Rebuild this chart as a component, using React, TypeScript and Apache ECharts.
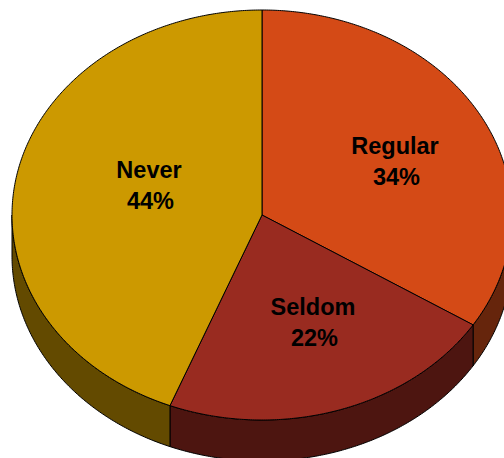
import React, { useEffect, useRef } from "react";
import * as echarts from "echarts";

// Usage shares, clockwise from twelve o'clock.
const categories = ["Regular", "Seldom", "Never"];
const shares = [34, 22, 44];
const topColors = ["#D44A16", "#992B20", "#CC9900"];
const wallColors = ["#66250C", "#4D1510", "#634A00"];

// Tilted disc geometry.
const CX = 262;
const CY = 215;
const RX = 250;
const RY = 205;
const DEPTH = 41;
const labelCentres = [
  [395, 161],
  [313, 322],
  [149, 185],
];
const LABEL_FONT = 'bold 23.5px "Liberation Sans", Arial, sans-serif';

const total = shares.reduce((a, b) => a + b, 0);

const rimPoint = (deg: number, dy = 0) => {
  const r = (deg * Math.PI) / 180;
  return [CX + RX * Math.sin(r), CY - RY * Math.cos(r) + dy];
};

const rimArc = (from: number, to: number, dy = 0) => {
  const pts: number[][] = [];
  const n = Math.max(1, Math.ceil(Math.abs(to - from) * 2));
  for (let i = 0; i <= n; i++) pts.push(rimPoint(from + ((to - from) * i) / n, dy));
  return pts;
};

const labelLine = (text: string, x: number, y: number) => ({
  type: "text",
  x,
  y,
  style: { text, fill: "#000", font: LABEL_FONT, align: "center", verticalAlign: "middle" },
});

const renderSlice = (_params: any, api: any) => {
  const index = api.value(0);
  const before = shares.slice(0, index).reduce((a, b) => a + b, 0);
  const start = (before / total) * 360;
  const end = ((before + api.value(1)) / total) * 360;
  const children: any[] = [];

  // The wall shows only along the front half of the rim.
  const wallStart = Math.max(start, 90);
  const wallEnd = Math.min(end, 270);
  if (wallEnd > wallStart) {
    const upper = rimArc(wallStart, wallEnd);
    const lower = rimArc(wallEnd, wallStart, DEPTH);
    children.push({
      type: "polygon",
      shape: { points: [...upper, ...lower] },
      style: { fill: wallColors[index], stroke: "#000", lineWidth: 1 },
    });
  }

  children.push({
    type: "polygon",
    shape: { points: [[CX, CY], ...rimArc(start, end)] },
    style: { fill: topColors[index], stroke: "#000", lineWidth: 1 },
  });

  const [lx, ly] = labelCentres[index];
  children.push(labelLine(categories[index], lx, ly - 15.5));
  children.push(labelLine(`${api.value(1)}%`, lx + 1.5, ly + 15.5));

  return { type: "group", children };
};

export default function App() {
  const ref = useRef<HTMLDivElement>(null);

  useEffect(() => {
    document.body.style.margin = "0";
    const chart = echarts.init(ref.current!, undefined, { renderer: "svg" });
    chart.setOption({
      animation: false,
      backgroundColor: "#fff",
      series: [
        {
          type: "custom",
          coordinateSystem: "none",
          renderItem: renderSlice,
          data: shares.map((v, i) => [i, v]),
        },
      ],
    });
    return () => chart.dispose();
  }, []);

  return <div ref={ref} style={{ width: 504, height: 458, overflow: "hidden" }} />;
}
